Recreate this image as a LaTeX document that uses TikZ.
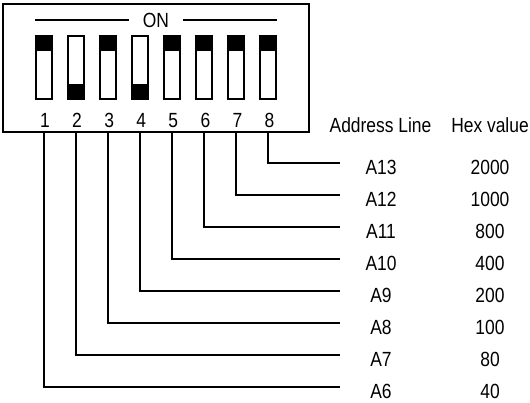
\documentclass[tikz,border=0pt]{standalone}
\usepackage{fontspec}
\setmainfont{Liberation Sans}
\newcommand{\nt}[1]{\scalebox{0.85}[1]{#1}}
\begin{document}
\begin{tikzpicture}[x=1pt,y=-1pt,line width=2pt,
  txt/.style={font=\fontsize{20.5}{20.5}\selectfont,inner sep=0pt,anchor=center},
  swbox/.style={draw,line width=2pt,minimum width=16pt,minimum height=63pt,inner sep=0pt},
  frame/.style={draw,line width=2pt,minimum width=306pt,minimum height=128pt,inner sep=0pt,anchor=north west},
  wire/.style={line width=2pt}]
\useasboundingbox (0,0) rectangle (530,402);
\node[frame] (box) at (2,3) {};
\node[txt,inner xsep=12.5pt] (on) at (156,20) {\nt{ON}};
\coordinate (onL) at (35,20);
\coordinate (onR) at (277,20);
\draw[wire] (onL) -- (on.west);
\draw[wire] (on.east) -- (onR);
\foreach \i/\st in {1/u,2/d,3/u,4/d,5/u,6/u,7/u,8/u}{
  \pgfmathsetmacro{\xx}{44+32.07*(\i-1)}
  \node[swbox] (s\i) at (\xx,67.5) {};
  \if\st u
    \fill (s\i.north west) rectangle ([yshift=-16pt]s\i.north east);
  \else
    \fill (s\i.south west) rectangle ([yshift=16pt]s\i.south east);
  \fi
  \node[txt] (n\i) at (\xx+1,120.5) {\nt{\i}};
}
\foreach \i/\lab/\hx in {1/A6/40,2/A7/80,3/A8/100,4/A9/200,5/A10/400,6/A11/800,7/A12/1000,8/A13/2000}{
  \pgfmathsetmacro{\xx}{44+32.07*(\i-1)}
  \pgfmathsetmacro{\yy}{387-32*(\i-1)}
  \coordinate (t\i) at (\xx,131);
  \coordinate (e\i) at (340,\yy);
  \draw[wire] (t\i) |- (e\i);
  \node[txt] (a\i) at (381,\yy+4) {\nt{\lab}};
  \node[txt] (h\i) at (490,\yy+4) {\nt{\hx}};
}
\node[txt] (hdrA) at (380.5,125) {\nt{Address Line}};
\node[txt] (hdrH) at (490,125) {\nt{Hex value}};
\end{tikzpicture}
\end{document}
